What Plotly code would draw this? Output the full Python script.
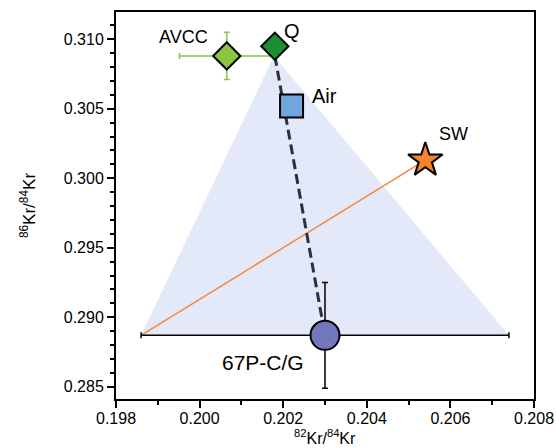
import plotly.graph_objects as go

# Krypton isotope ratios of reservoirs
names = ["AVCC", "Q", "Air", "SW", "67P-C/G"]
kr82_84 = [0.20065, 0.2018, 0.2022, 0.2054, 0.2030]
kr86_84 = [0.3088, 0.3095, 0.3052, 0.3013, 0.2887]
kr82_err = [0.00113, 0.0, 0.0, 0.0, 0.0044]
kr86_err = [0.0017, 0.0, 0.0, 0.0, 0.0038]

x_ticks = [0.198, 0.200, 0.202, 0.204, 0.206, 0.208]
y_ticks = [0.285, 0.290, 0.295, 0.300, 0.305, 0.310]

FONT = "Liberation Sans, Arial, Helvetica, sans-serif"

i_avcc, i_q, i_air, i_sw, i_67p = range(5)

fig = go.Figure()

# Mixing field: 67P error range at the base, apex at the AVCC upper bound
tri_x = [kr82_84[i_67p] - kr82_err[i_67p],
         kr82_84[i_67p] + kr82_err[i_67p],
         kr82_84[i_avcc] + kr82_err[i_avcc],
         kr82_84[i_67p] - kr82_err[i_67p]]
tri_y = [kr86_84[i_67p], kr86_84[i_67p], kr86_84[i_avcc], kr86_84[i_67p]]
fig.add_trace(go.Scatter(x=tri_x, y=tri_y, mode="lines", fill="toself",
                         fillcolor="#e4e9f9", line=dict(width=0),
                         hoverinfo="skip", showlegend=False))

# Solar wind mixing line
fig.add_trace(go.Scatter(x=[kr82_84[i_67p] - kr82_err[i_67p], kr82_84[i_sw]],
                         y=[kr86_84[i_67p], kr86_84[i_sw]], mode="lines",
                         line=dict(color="#f5873a", width=1.5),
                         showlegend=False))

# Q to 67P mixing line
fig.add_trace(go.Scatter(x=[kr82_84[i_q], kr82_84[i_67p]],
                         y=[kr86_84[i_avcc], kr86_84[i_67p]], mode="lines",
                         line=dict(color="#2b303e", width=3, dash="10px,5px"),
                         showlegend=False))

styles = {
    i_avcc: dict(symbol="diamond", size=21, color="#8cc63f", ecolor="#8cc63f"),
    i_air: dict(symbol="square", size=23, color="#6fa7dc", ecolor="black"),
    i_sw: dict(symbol="star", size=26, color="#f5822c", ecolor="black"),
    i_67p: dict(symbol="circle", size=29, color="#7176bd", ecolor="black"),
    i_q: dict(symbol="diamond", size=21, color="#1a8f34", ecolor="black"),
}

for i in [i_avcc, i_air, i_sw, i_67p, i_q]:
    s = styles[i]
    fig.add_trace(go.Scatter(
        x=[kr82_84[i]], y=[kr86_84[i]], mode="markers", name=names[i],
        error_x=dict(type="data", array=[kr82_err[i]], visible=kr82_err[i] > 0,
                     color=s["ecolor"], thickness=1.5, width=3),
        error_y=dict(type="data", array=[kr86_err[i]], visible=kr86_err[i] > 0,
                     color=s["ecolor"], thickness=1.5, width=3),
        marker=dict(symbol=s["symbol"], size=s["size"], color=s["color"],
                    line=dict(color="black", width=2)),
        showlegend=False))

# Point labels
label_offsets = {
    i_avcc: (-43, 19, 18),
    i_q: (17, 15, 20),
    i_air: (33, 10, 20),
    i_sw: (28, 26, 18),
    i_67p: (-62, -27, 21),
}
for i, (dx, dy, fs) in label_offsets.items():
    fig.add_annotation(x=kr82_84[i], y=kr86_84[i], text=names[i],
                       showarrow=False, xshift=dx, yshift=dy,
                       font=dict(family=FONT, size=fs, color="black"))

# x-axis title placed under the tick labels
fig.add_annotation(x=0.5, y=0, xref="paper", yref="paper",
                   xanchor="center", yanchor="top", yshift=-27,
                   text="<sup>82</sup>Kr/<sup>84</sup>Kr", showarrow=False,
                   borderpad=0,
                   font=dict(family=FONT, size=16, color="black"))

axis_common = dict(
    showgrid=False, zeroline=False, showline=True, linecolor="black",
    linewidth=2, mirror=True, ticks="outside", ticklen=7, tickwidth=1.5,
    tickcolor="black", tickfont=dict(family=FONT, size=16, color="black"),
)

fig.update_xaxes(range=[0.198, 0.208], tickvals=x_ticks,
                 ticktext=[f"{v:.3f}" for v in x_ticks],
                 ticklabelstandoff=-3,
                 minor=dict(dtick=0.001, ticks="outside", ticklen=4,
                            tickwidth=1.5, tickcolor="black"),
                 **axis_common)
fig.update_yaxes(range=[0.28412, 0.31196], tickvals=y_ticks,
                 ticktext=[f"{v:.3f}" for v in y_ticks],
                 minor=dict(dtick=0.001, tick0=0.285, ticks="outside",
                            ticklen=4, tickwidth=1.5, tickcolor="black"),
                 title=dict(text="<sup>86</sup>Kr/<sup>84</sup>Kr",
                            font=dict(family=FONT, size=17, color="black"),
                            standoff=24),
                 **axis_common)

fig.update_layout(width=556, height=448,
                  margin=dict(l=116, r=22, t=12, b=49, autoexpand=False),
                  paper_bgcolor="white", plot_bgcolor="white",
                  font=dict(family=FONT))

fig.write_html("out.html")
